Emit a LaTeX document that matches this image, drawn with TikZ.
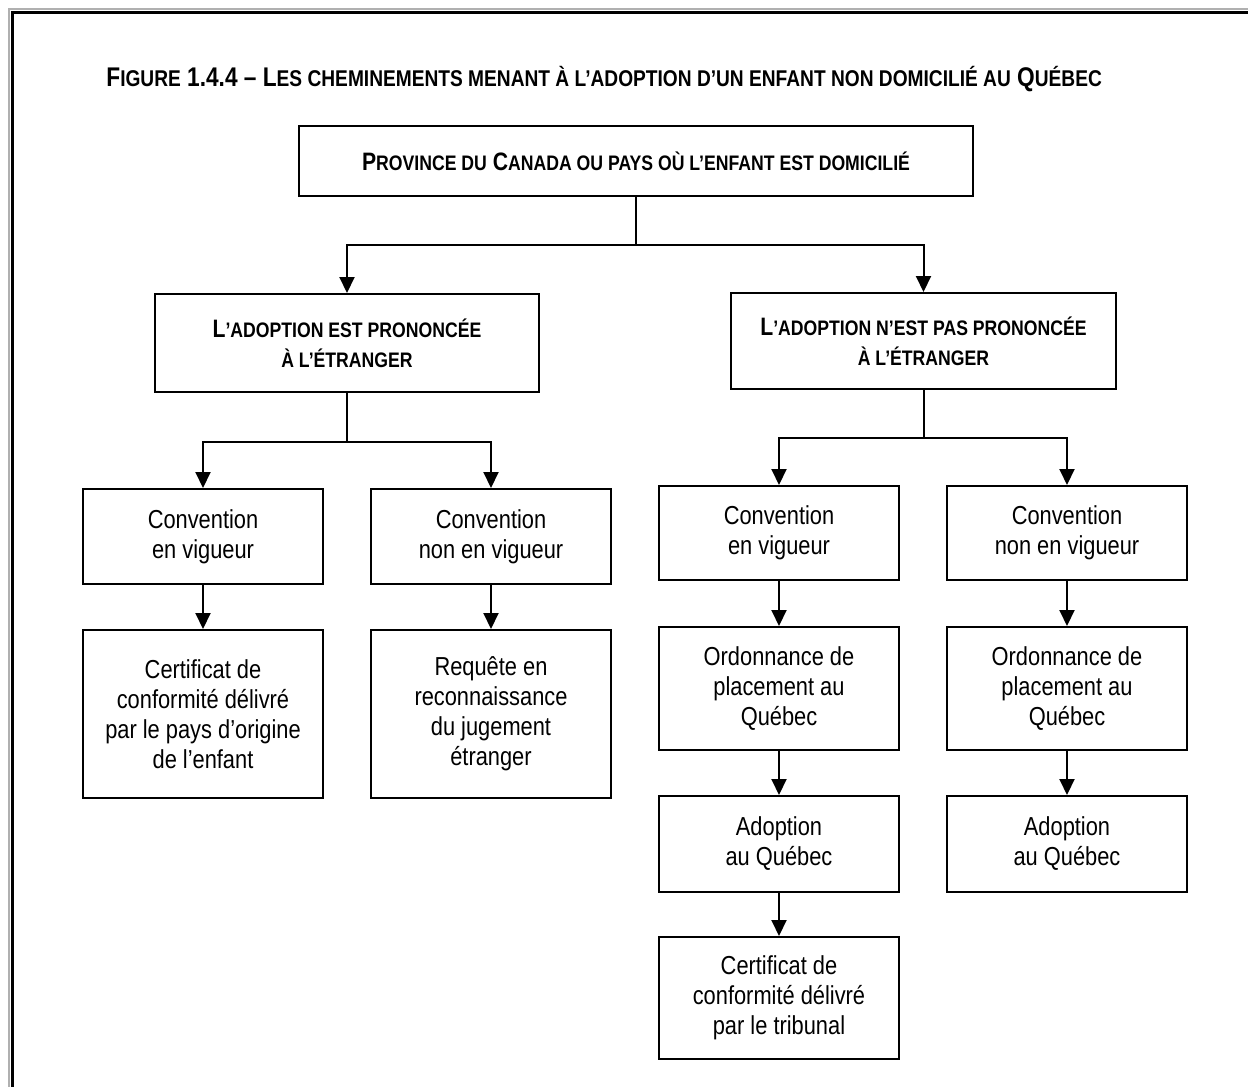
\documentclass[tikz,border=0pt]{standalone}
\usepackage{fontspec}
\setmainfont{Liberation Sans}[FakeStretch=0.84]
\usepackage{tikz}
\usetikzlibrary{calc, positioning, arrows.meta}
\definecolor{framegray}{HTML}{B0B0B0}
\newcommand\smc[1]{{\fontsize{10.5}{12}\selectfont #1}}
\newcommand\smt[1]{{\fontsize{11.4}{13}\selectfont #1}}

\begin{document}
\begin{tikzpicture}[x=0.5pt, y=-0.5pt,
    box/.style={draw, line width=1pt, align=center, inner sep=2pt,
      font=\fontsize{13}{15}\selectfont},
    headbox/.style={box, font=\bfseries\fontsize{12.6}{15}\selectfont},
    arr/.style={line width=1pt, -{Triangle[length=8pt, width=7.5pt]}},
    link/.style={line width=1pt}]
      \useasboundingbox (0,0) rectangle (1248,1087);
      % frame, only the left and top sides show
      \draw[framegray, line width=1.2pt] (9,1090) -- (9,9) -- (1250,9);
      \draw[black, line width=1.5pt] (12.5,1090) -- (12.5,12.5) -- (1250,12.5);

      \node[anchor=base west, inner sep=0pt, font=\bfseries\fontsize{13.5}{15}\selectfont]
        (title) at (106,86)
        {F\smt{IGURE} 1.4.4 -- L\smt{ES CHEMINEMENTS MENANT À L’ADOPTION D’UN ENFANT NON DOMICILIÉ AU} Q\smt{UÉBEC}};

      \node[headbox, minimum width=337pt, minimum height=35pt] (top) at (636,161)
        {P\smc{ROVINCE DU} C\smc{ANADA OU PAYS OÙ L’ENFANT EST DOMICILIÉ}};

      \node[headbox, minimum width=192pt, minimum height=49pt] (adopt) at (347,343)
        {L\smc{’ADOPTION EST PRONONCÉE}\\ \smc{À L’ÉTRANGER}};
      \node[headbox, minimum width=192.5pt, minimum height=48pt] (noadopt) at (923.5,341)
        {L\smc{’ADOPTION N’EST PAS PRONONCÉE}\\ \smc{À L’ÉTRANGER}};

      % prononcee a l'etranger
      \node[box, minimum width=120pt, minimum height=47.5pt] (aconv) at (203,536.5)
        {Convention\\en vigueur};
      \node[box, minimum width=120pt, minimum height=47.5pt] (anonconv) at (491,536.5)
        {Convention\\non en vigueur};
      \node[box, minimum width=120pt, minimum height=84pt] (acert) at (203,714)
        {Certificat de\\conformité délivré\\par le pays d’origine\\de l’enfant};
      \node[box, minimum width=120pt, minimum height=84pt] (areq) at (491,714)
        {Requête en\\reconnaissance\\du jugement\\étranger};

      % non prononcee
      \node[box, minimum width=120pt, minimum height=47pt] (nconv) at (779,533)
        {Convention\\en vigueur};
      \node[box, minimum width=120pt, minimum height=47pt] (nnonconv) at (1067,533)
        {Convention\\non en vigueur};
      \node[box, minimum width=120pt, minimum height=61.5pt] (nord) at (779,688.5)
        {Ordonnance de\\placement au\\Québec};
      \node[box, minimum width=120pt, minimum height=61.5pt] (nnonord) at (1067,688.5)
        {Ordonnance de\\placement au\\Québec};
      \node[box, minimum width=120pt, minimum height=48pt] (nadopt) at (779,844)
        {Adoption\\au Québec};
      \node[box, minimum width=120pt, minimum height=48pt] (nnonadopt) at (1067,844)
        {Adoption\\au Québec};
      \node[box, minimum width=120pt, minimum height=61pt] (ncert) at (779,998)
        {Certificat de\\conformité délivré\\par le tribunal};

      % connectors
      \coordinate (j0) at (636,245);
      \coordinate (j1) at (347,442);
      \coordinate (j2) at (923.5,438);
      \draw[link] (top.south) -- (j0);
      \draw[arr] (j0) -| (adopt.north);
      \draw[arr] (j0) -| (noadopt.north);
      \draw[link] (adopt.south) -- (j1);
      \draw[arr] (j1) -| (aconv.north);
      \draw[arr] (j1) -| (anonconv.north);
      \draw[link] (noadopt.south) -- (j2);
      \draw[arr] (j2) -| (nconv.north);
      \draw[arr] (j2) -| (nnonconv.north);

      \draw[arr] (aconv) -- (acert);
      \draw[arr] (anonconv) -- (areq);
      \draw[arr] (nconv) -- (nord);
      \draw[arr] (nnonconv) -- (nnonord);
      \draw[arr] (nord) -- (nadopt);
      \draw[arr] (nnonord) -- (nnonadopt);
      \draw[arr] (nadopt) -- (ncert);
    \end{tikzpicture}
\end{document}
